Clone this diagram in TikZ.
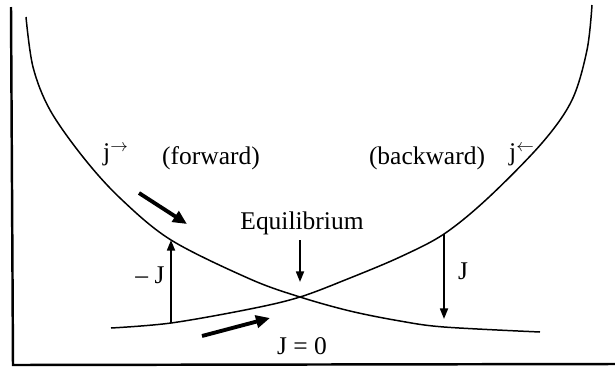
\documentclass[tikz,border=0pt]{standalone}
\usepackage{fontspec}
\setmainfont{Liberation Serif}
\usetikzlibrary{arrows.meta, positioning}

\begin{document}
\begin{tikzpicture}[
    x=0.02cm, y=-0.02cm,
    axis/.style={line width=1.4pt},
    curve/.style={line width=0.85pt},
    txt/.style={font=\fontsize{14.5}{17}\selectfont, inner sep=0pt},
    flow/.style={line width=2.2pt, -{Triangle[length=8pt,width=7pt]}},
    jump/.style={line width=1.1pt, -{Triangle[length=6pt,width=4.5pt]}}
  ]
  \useasboundingbox (0,0) rectangle (615,369);

  % axes
  \draw [axis] (11,7) -- (13,365) -- (615,364);

  % forward and backward curves
  \draw [curve] plot [smooth, tension=0.55] coordinates {(26,17) (33,67) (50,110) (83,157) (120,198) (171,240) (250,279) (300,297) (350,311) (400,321) (444,327) (540,332)};
  \draw [curve] plot [smooth, tension=0.55] coordinates {(592,5) (587,50) (572,100) (542,143) (488,198) (444,234) (400,257) (350,278) (300,297) (250,309) (171,323) (111,328)};

  % points on the curves
  \coordinate (lowL) at (171,323);
  \coordinate (highL) at (171,240);
  \coordinate (highR) at (444,234);
  \coordinate (lowR) at (444,319);
  \coordinate (cross) at (300,282);
  \coordinate (f1) at (139,193);
  \coordinate (f2) at (187,224);
  \coordinate (z1) at (202,336);
  \coordinate (z2) at (270,318);

  % labels
  \node (jf) [txt] at (116,155) {$\mathrm{j}^{\rightarrow}$};
  \node (fwd) [txt] at (211,158) {(forward)};
  \node (bwd) [txt] at (427,158) {(backward)};
  \node (jb) [txt] at (522,155) {$\mathrm{j}^{\leftarrow}$};
  \node (eq) [txt] at (302,223) {Equilibrium};
  \node (mJ) [txt] at (150,275) {– J};
  \node (J) [txt] at (463,271) {J};
  \node (zero) [txt] at (302,346) {J = 0};

  % arrows
  \draw [flow] (f1) -- (f2);
  \draw [flow] (z1) -- (z2);
  \draw [jump] (lowL) -- (highL);
  \draw [jump] (highR) -- (lowR);
  \draw [jump] ([yshift=-3pt]cross |- eq.south) -- (cross);
\end{tikzpicture}
\end{document}
